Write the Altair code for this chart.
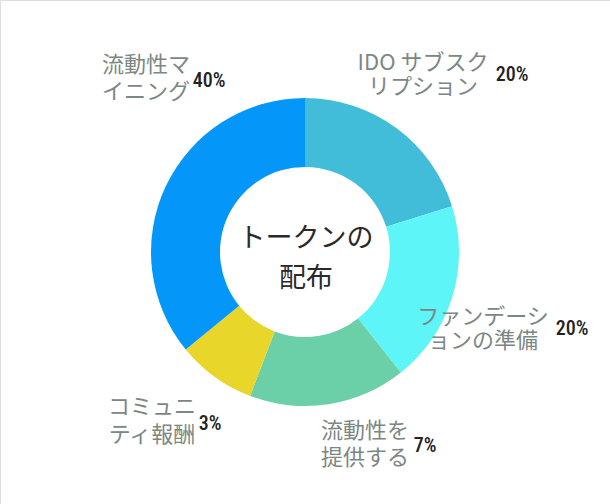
import altair as alt
import pandas as pd

# ---- data ----
categories = ["IDO サブスクリプション", "ファンデーションの準備", "流動性を提供する", "コミュニティ報酬", "流動性マイニング"]
shares = [20.2, 19.1, 16.5, 8.3, 35.9]          # slice sizes as drawn (angle-measured)
label_line1 = ["IDO サブスク", "ファンデーシ", "流動性を", "コミュニ", "流動性マ"]
label_line2 = ["リプション", "ョンの準備", "提供する", "ティ報酬", "イニング"]
percent_labels = ["20%", "20%", "7%", "3%", "40%"]
title_lines = ["トークンの", "配布"]

# ---- styling / layout (kept separate from data) ----
colors = ["#41BDDA", "#5DF5F7", "#6BCFA8", "#E8D62A", "#0497F9"]
label_x = [423, 483, 365, 152, 146]
label_y1 = [63, 317, 431, 407, 65]
label_y2 = [87, 341, 458, 435, 92]
pct_x = [512, 572, 425, 210, 209]
pct_y = [75, 329, 446, 424, 81]
title_y = [239, 279]

W, H = 610, 504

df = pd.DataFrame({
    "category": categories,
    "share": shares,
    "order": list(range(len(categories))),
    "pct": percent_labels,
    "px": pct_x,
    "py": pct_y,
})

lab = pd.DataFrame({
    "text": label_line1 + label_line2,
    "x": label_x + label_x,
    "y": label_y1 + label_y2,
})

tit = pd.DataFrame({"text": title_lines, "y": title_y})

arcs = alt.Chart(df).mark_arc(innerRadius=85, outerRadius=154).encode(
    theta=alt.Theta("share:Q", stack=True),
    order=alt.Order("order:Q", sort="ascending"),
    color=alt.Color("category:N", scale=alt.Scale(domain=categories, range=colors), legend=None),
)

labels = alt.Chart(lab).mark_text(
    align="center", baseline="middle",
    font="Noto Sans CJK JP", fontSize=22, color="#7C8784",
).encode(
    x=alt.X("x:Q", scale=None),
    y=alt.Y("y:Q", scale=None),
    text="text:N",
)

pcts = alt.Chart(df).mark_text(
    align="center", baseline="middle",
    font="Liberation Sans Narrow, Roboto Condensed, Roboto", fontSize=20, fontWeight=500, color="#222222",
).encode(
    x=alt.X("px:Q", scale=None),
    y=alt.Y("py:Q", scale=None),
    text="pct:N",
)

title = alt.Chart(tit).mark_text(
    align="center", baseline="middle",
    font="Noto Sans CJK JP", fontSize=27, color="#2a2a2a",
).encode(
    x=alt.value(306),
    y=alt.Y("y:Q", scale=None),
    text="text:N",
)

chart = alt.layer(arcs, labels, pcts, title).properties(
    width=W, height=H,
    autosize=alt.AutoSizeParams(type="none"),
    padding=0,
).configure_view(stroke=None).configure(background="white")

chart.save("out.html", embed_options={"renderer": "svg", "actions": False})
